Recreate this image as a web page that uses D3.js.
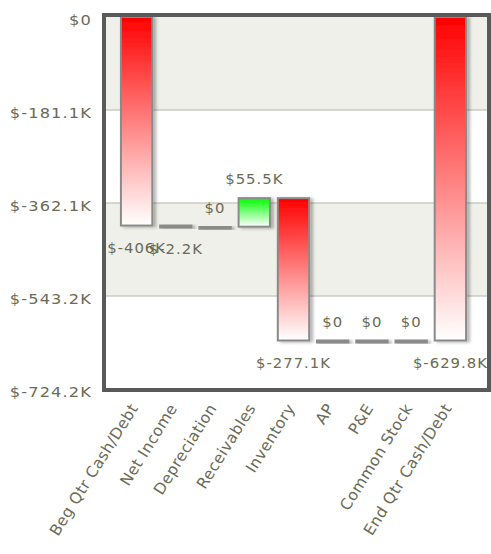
<!DOCTYPE html>
<html>
<head>
<meta charset="utf-8">
<script src="https://cdn.jsdelivr.net/npm/d3@7"></script>
<style>
  html, body { margin: 0; padding: 0; background: #fff; }
  svg { display: block; }
  text { font-family: "DejaVu Sans", Verdana, sans-serif; fill: #6a6a55; }
</style>
</head>
<body>
<svg id="chart" width="491" height="554"></svg>
<script>
// Cash flow waterfall for the quarter (values in $K)
const categories = ["Beg Qtr Cash/Debt", "Net Income", "Depreciation", "Receivables",
                    "Inventory", "AP", "P&E", "Common Stock", "End Qtr Cash/Debt"];
const changes = [-406.0, -2.2, 0, 55.5, -277.1, 0, 0, 0, -629.8];
const kinds = ["total", "step", "step", "step", "step", "step", "step", "step", "total"];
const valueLabels = ["$-406K", "$-2.2K", "$0", "$55.5K", "$-277.1K", "$0", "$0", "$0", "$-629.8K"];
const yTickValues = [0, -181.05, -362.1, -543.15, -724.2];
const yTickLabels = ["$0", "$-181.1K", "$-362.1K", "$-543.2K", "$-724.2K"];

const svg = d3.select("#chart");
const plot = { left: 106, right: 487, top: 17, bottom: 389 };

const y = d3.scaleLinear().domain([-724.2, 0]).range([plot.bottom, plot.top]);
const x = d3.scaleBand().domain(categories).range([117, 470])
  .paddingInner(0.2).paddingOuter(0.1);

// running start/end of each waterfall segment
let running = 0;
const bars = categories.map((c, i) => {
  let start, end;
  if (kinds[i] === "total") { start = 0; end = changes[i]; running = changes[i]; }
  else { start = running; end = running + changes[i]; running = end; }
  return { cat: c, start, end, change: changes[i], label: valueLabels[i] };
});

const defs = svg.append("defs");
function gradient(id, top) {
  const g = defs.append("linearGradient").attr("id", id)
    .attr("x1", 0).attr("y1", 0).attr("x2", 0).attr("y2", 1);
  g.append("stop").attr("offset", "0%").attr("stop-color", top);
  g.append("stop").attr("offset", "100%").attr("stop-color", "#ffffff");
}
gradient("neg", "#ff0000");
gradient("pos", "#00ff00");
const f = defs.append("filter").attr("id", "shadow")
  .attr("x", "-30%").attr("y", "-30%").attr("width", "160%").attr("height", "160%");
f.append("feDropShadow").attr("dx", 3).attr("dy", 1).attr("stdDeviation", 1.5)
  .attr("flood-color", "#000").attr("flood-opacity", 0.28);

// alternating horizontal bands
const bandStarts = yTickValues.slice(0, -1);
svg.append("g").selectAll("rect").data(bandStarts).join("rect")
  .attr("x", plot.left).attr("width", plot.right - plot.left + 2)
  .attr("y", d => y(d))
  .attr("height", (d, i) => y(yTickValues[i + 1]) - y(d))
  .attr("fill", (d, i) => i % 2 === 0 ? "#f0f0ea" : "#ffffff");

// grid lines
svg.append("g").selectAll("line").data(yTickValues.slice(1, -1)).join("line")
  .attr("x1", plot.left).attr("x2", plot.right + 2)
  .attr("y1", d => y(d)).attr("y2", d => y(d))
  .attr("stroke", "#cbcbc0").attr("stroke-width", 1.5);

// y axis labels
const yAxis = d3.axisLeft(y).tickValues(yTickValues)
  .tickFormat((d, i) => yTickLabels[i]).tickSize(0).tickPadding(0);
const ya = svg.append("g").attr("transform", "translate(92,2)").call(yAxis);
ya.select(".domain").remove();
ya.selectAll("text").style("font-size", "14.5px").attr("fill", "#6a6a55")
  .attr("font-family", "DejaVu Sans, Verdana, sans-serif")
  .style("letter-spacing", "1px")
  .attr("x", 0).attr("dy", "0.35em")
  .attr("transform", "scale(1.12,1)");

// bars
const bw = x.bandwidth();
svg.append("g").selectAll("rect").data(bars).join("rect")
  .attr("x", d => x(d.cat))
  .attr("width", bw)
  .attr("y", d => y(Math.max(d.start, d.end)))
  .attr("height", d => Math.max(2, Math.abs(y(d.start) - y(d.end))))
  .attr("fill", d => d.change === 0 ? "#8a8a8a" : (d.end > d.start ? "url(#pos)" : "url(#neg)"))
  .attr("stroke", "#8a8a8a").attr("stroke-width", 2)
  .attr("filter", "url(#shadow)");

// value labels: above for zero/positive steps, below for negatives
svg.append("g").selectAll("text").data(bars).join("text")
  .attr("transform", d => {
    const ty = d.change >= 0 ? y(Math.max(d.start, d.end)) - 14
                             : y(Math.min(d.start, d.end)) + 27;
    return `translate(${x(d.cat) + bw / 2},${ty}) scale(1.1,1)`;
  })
  .attr("text-anchor", "middle")
  .style("font-size", "13.5px")
  .style("letter-spacing", "0.9px")
  .text(d => d.label);

// frame around the plot
svg.append("rect")
  .attr("x", 104).attr("y", 15).attr("width", 385).attr("height", 375)
  .attr("fill", "none").attr("stroke", "#595959").attr("stroke-width", 4);

// rotated category labels
const xAxis = d3.axisBottom(x).tickSize(0).tickPadding(0);
const xa = svg.append("g").attr("transform", "translate(0,400)").call(xAxis);
xa.select(".domain").remove();
xa.selectAll("text")
  .attr("fill", "#6a6a55")
  .attr("font-family", "DejaVu Sans, Verdana, sans-serif")
  .style("font-size", "15.5px")
  .style("letter-spacing", "0.4px")
  .attr("text-anchor", "end")
  .attr("dy", 0).attr("y", 0).attr("x", 0)
  .attr("transform", "translate(2,8) rotate(-58)");
</script>
</body>
</html>
